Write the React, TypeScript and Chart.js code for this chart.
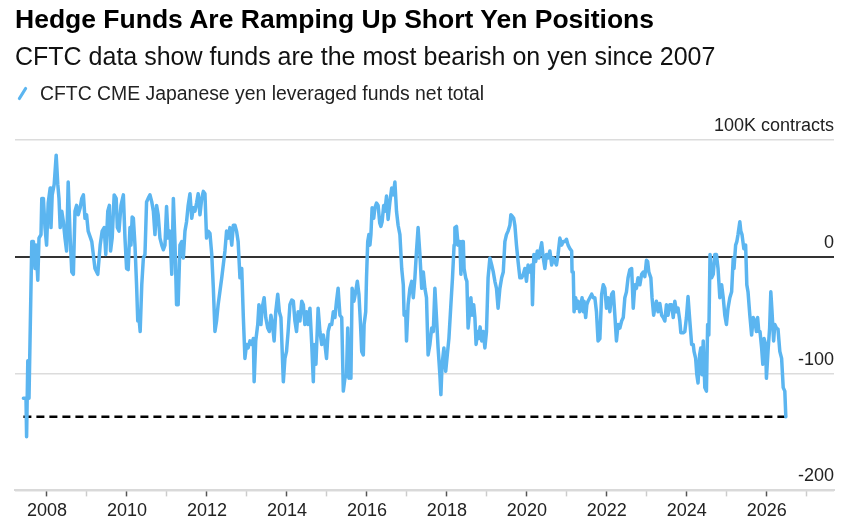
import React, { useEffect, useRef } from "react";
import { Chart, registerables } from "chart.js";

Chart.register(...registerables);

const TITLE = "Hedge Funds Are Ramping Up Short Yen Positions";
const SUBTITLE = "CFTC data show funds are the most bearish on yen since 2007";
const SERIES_LABEL = "CFTC CME Japanese yen leveraged funds net total";
const UNIT_LABEL = "100K contracts";

const BLUE = "#5bb5f0";
const FONT = "'Liberation Sans', Arial, Helvetica, sans-serif";

// Decimal-year dates of the observations
const dates = [
  2007.41, 2007.475, 2007.49, 2007.52, 2007.55, 2007.62, 2007.66, 2007.7, 2007.725, 2007.77,
  2007.8, 2007.85, 2007.87, 2007.91, 2007.95, 2007.99, 2008.03, 2008.08, 2008.1, 2008.13,
  2008.18, 2008.23, 2008.27, 2008.3, 2008.33, 2008.37, 2008.41, 2008.45, 2008.49, 2008.53,
  2008.58, 2008.62, 2008.66, 2008.7, 2008.74, 2008.78, 2008.83, 2008.87, 2008.91, 2008.95,
  2008.99, 2009.03, 2009.12, 2009.2, 2009.27, 2009.33, 2009.38, 2009.43, 2009.47, 2009.52,
  2009.56, 2009.59, 2009.63, 2009.68, 2009.73, 2009.76, 2009.8, 2009.85, 2009.91, 2009.95,
  2009.99, 2010.03, 2010.075, 2010.1, 2010.13, 2010.16, 2010.2, 2010.24, 2010.27, 2010.3,
  2010.33, 2010.37, 2010.41, 2010.45, 2010.49, 2010.53, 2010.575, 2010.62, 2010.66, 2010.7,
  2010.74, 2010.78, 2010.825, 2010.87, 2010.91, 2010.95, 2010.99, 2011.03, 2011.075, 2011.12,
  2011.16, 2011.2, 2011.24, 2011.28, 2011.325, 2011.37, 2011.41, 2011.45, 2011.49, 2011.53,
  2011.575, 2011.62, 2011.66, 2011.7, 2011.74, 2011.78, 2011.825, 2011.87, 2011.91, 2011.95,
  2011.99, 2012.03, 2012.075, 2012.12, 2012.16, 2012.2, 2012.24, 2012.28, 2012.37, 2012.45,
  2012.49, 2012.53, 2012.575, 2012.62, 2012.66, 2012.7, 2012.74, 2012.78, 2012.825, 2012.87,
  2012.91, 2012.95, 2012.99, 2013.03, 2013.075, 2013.12, 2013.16, 2013.18, 2013.22, 2013.27,
  2013.3, 2013.35, 2013.38, 2013.43, 2013.47, 2013.52, 2013.56, 2013.6, 2013.64, 2013.68,
  2013.72, 2013.77, 2013.81, 2013.85, 2013.91, 2013.95, 2013.99, 2014.03, 2014.075, 2014.12,
  2014.16, 2014.2, 2014.24, 2014.28, 2014.325, 2014.37, 2014.41, 2014.45, 2014.49, 2014.53,
  2014.575, 2014.62, 2014.66, 2014.68, 2014.725, 2014.78, 2014.825, 2014.87, 2014.91, 2014.95,
  2014.99, 2015.03, 2015.075, 2015.12, 2015.16, 2015.2, 2015.24, 2015.28, 2015.325, 2015.37,
  2015.41, 2015.45, 2015.49, 2015.52, 2015.55, 2015.575, 2015.6, 2015.63, 2015.675, 2015.72,
  2015.76, 2015.8, 2015.84, 2015.87, 2015.91, 2015.93, 2015.97, 2015.99, 2016.02, 2016.05,
  2016.075, 2016.1, 2016.13, 2016.17, 2016.2, 2016.24, 2016.28, 2016.32, 2016.35, 2016.38,
  2016.42, 2016.45, 2016.49, 2016.53, 2016.575, 2016.62, 2016.66, 2016.7, 2016.74, 2016.78,
  2016.825, 2016.87, 2016.91, 2016.93, 2016.97, 2016.99, 2017.03, 2017.075, 2017.12, 2017.16,
  2017.2, 2017.24, 2017.28, 2017.325, 2017.37, 2017.41, 2017.45, 2017.49, 2017.53, 2017.575,
  2017.62, 2017.66, 2017.7, 2017.74, 2017.78, 2017.825, 2017.85, 2017.88, 2017.925, 2017.97,
  2018.01, 2018.05, 2018.1, 2018.14, 2018.18, 2018.2, 2018.24, 2018.28, 2018.325, 2018.35,
  2018.38, 2018.41, 2018.43, 2018.47, 2018.5, 2018.53, 2018.57, 2018.6, 2018.63, 2018.67,
  2018.7, 2018.73, 2018.77, 2018.8, 2018.83, 2018.87, 2018.91, 2018.95, 2018.99, 2019.03,
  2019.075, 2019.12, 2019.16, 2019.2, 2019.24, 2019.28, 2019.325, 2019.37, 2019.41, 2019.45,
  2019.49, 2019.53, 2019.575, 2019.6, 2019.63, 2019.67, 2019.7, 2019.74, 2019.78, 2019.825,
  2019.87, 2019.91, 2019.95, 2019.99, 2020.03, 2020.075, 2020.12, 2020.14, 2020.175, 2020.22,
  2020.26, 2020.3, 2020.33, 2020.37, 2020.41, 2020.45, 2020.49, 2020.53, 2020.575, 2020.62,
  2020.66, 2020.7, 2020.74, 2020.78, 2020.825, 2020.87, 2020.91, 2020.95, 2020.99, 2021.03,
  2021.075, 2021.12, 2021.13, 2021.16, 2021.18, 2021.22, 2021.25, 2021.28, 2021.32, 2021.35,
  2021.38, 2021.41, 2021.43, 2021.47, 2021.5, 2021.53, 2021.575, 2021.62, 2021.66, 2021.7,
  2021.74, 2021.78, 2021.825, 2021.87, 2021.91, 2021.95, 2021.99, 2022.03, 2022.075, 2022.12,
  2022.16, 2022.2, 2022.24, 2022.28, 2022.325, 2022.37, 2022.41, 2022.45, 2022.49, 2022.53,
  2022.575, 2022.62, 2022.66, 2022.7, 2022.74, 2022.78, 2022.825, 2022.87, 2022.91, 2022.95,
  2022.99, 2023.02, 2023.05, 2023.1, 2023.13, 2023.17, 2023.2, 2023.24, 2023.28, 2023.325,
  2023.37, 2023.41, 2023.45, 2023.49, 2023.53, 2023.575, 2023.62, 2023.66, 2023.7, 2023.74,
  2023.78, 2023.825, 2023.85, 2023.91, 2023.95, 2023.99, 2024.03, 2024.075, 2024.12, 2024.16,
  2024.18, 2024.22, 2024.25, 2024.28, 2024.32, 2024.35, 2024.38, 2024.41, 2024.45, 2024.49,
  2024.52, 2024.55, 2024.58, 2024.62, 2024.66, 2024.7, 2024.74, 2024.78, 2024.825, 2024.87,
  2024.91, 2024.95, 2024.99, 2025.03, 2025.075, 2025.12, 2025.16, 2025.18, 2025.22, 2025.25,
  2025.28, 2025.325, 2025.35, 2025.38, 2025.425, 2025.47, 2025.5, 2025.53, 2025.575, 2025.62,
  2025.66, 2025.7, 2025.74, 2025.77, 2025.8, 2025.83, 2025.87, 2025.9, 2025.93, 2025.97,
  2025.99, 2026.03, 2026.07, 2026.1, 2026.13, 2026.17, 2026.2, 2026.24, 2026.28, 2026.325,
  2026.37, 2026.41, 2026.45, 2026.475,
];

// Net leveraged-fund position, thousands of contracts
const netTotal = [
  -121, -121, -154, -89, -121, 13, 13, -10, 10, -20,
  16, 19, 50, 50, 25, 10, 46, 59, 25, 53,
  62, 87, 62, 50, 25, 39, 30, 16, 5, 64,
  16, -13, -15, 39, 44, 36, 42, 50, 53, 33,
  36, 22, 13, -10, -15, 10, 22, 25, 2, 39,
  44, 5, 16, 53, 50, 25, 22, 44, 53, 16,
  -10, -11, 25, 10, 34, 33, 10, -24, -55, -52,
  -64, -24, -1, 2, 47, 50, 53, 47, 39, 19,
  44, 36, 16, 10, 6, 10, 43, 16, 22, -15,
  50, 13, -41, -41, 10, 13, -1, 22, 30, 44,
  54, 33, 42, 39, 46, 54, 36, 50, 56, 54,
  16, 22, 20, 2, -27, -64, -55, -41, -18, 5,
  22, 16, 25, 10, 27, 27, 22, 13, -18, -10,
  -52, -87, -75, -78, -72, -75, -70, -107, -72, -58,
  -41, -58, -44, -35, -52, -61, -64, -50, -58, -72,
  -47, -32, -47, -52, -107, -87, -81, -64, -41, -37,
  -38, -55, -64, -47, -55, -38, -41, -58, -47, -58,
  -44, -75, -107, -75, -92, -44, -64, -75, -67, -75,
  -87, -64, -58, -58, -47, -52, -38, -27, -50, -52,
  -115, -104, -101, -61, -104, -81, -104, -27, -38, -30,
  -21, -32, -58, -81, -84, -58, -47, -18, 13, 19,
  10, 19, 42, 33, 42, 46, 44, 29, 26, 30,
  44, 39, 52, 32, 47, 59, 53, 64, 39, 27,
  19, -10, -24, -50, -47, -72, -41, -27, -21, -35,
  -18, 5, 25, 2, -27, -13, -27, -35, -84, -75,
  -61, -64, -27, -52, -78, -101, -118, -92, -78, -98,
  -84, -70, -41, -18, 10, 25, 26, 10, 13, -15,
  13, 13, -10, -18, -21, -61, -47, -35, -50, -41,
  -52, -75, -64, -70, -60, -72, -64, -78, -64, -18,
  -1, -7, -13, -21, -27, -44, -27, -18, -13, 13,
  19, 22, 27, 36, 35, 33, 27, 10, -4, -18,
  -18, -15, -10, -21, -7, -13, -7, -41, 2, -4,
  5, -1, 5, 12, -1, -10, 2, -1, 5, -7,
  -1, -4, -7, 2, 16, 10, 13, 13, 15, 10,
  7, 5, -13, -13, -47, -35, -44, -38, -47, -41,
  -35, -47, -38, -52, -41, -38, -35, -32, -35, -35,
  -47, -72, -70, -32, -24, -27, -44, -35, -47, -32,
  -30, -50, -72, -58, -61, -55, -52, -35, -30, -18,
  -11, -10, -44, -24, -27, -18, -24, -15, -13, -17,
  -3, -4, -13, -18, -35, -50, -44, -38, -47, -40,
  -50, -52, -55, -41, -50, -41, -41, -52, -38, -47,
  -44, -55, -65, -65, -64, -52, -34, -55, -75, -75,
  -81, -87, -101, -108, -84, -78, -101, -72, -112, -115,
  -58, -67, 2, -18, -15, 2, 2, -10, -35, -24,
  -35, -50, -58, -44, -35, -30, -1, -10, 10, 13,
  19, 30, 22, 19, 7, 10, -24, -30, -50, -67,
  -52, -55, -64, -52, -64, -64, -78, -92, -70, -75,
  -104, -81, -61, -30, -47, -72, -58, -61, -62, -81,
  -87, -112, -115, -137,
];

// Reference level: the 2007 low matched by the latest reading
const lowLevel = -137;
const lowLineSpan = [2007.41, 2026.49];

const yTickValues = [100, 0, -100, -200];
const yearTickValues = [
  2008, 2009, 2010, 2011, 2012, 2013, 2014, 2015, 2016, 2017,
  2018, 2019, 2020, 2021, 2022, 2023, 2024, 2025, 2026, 2027,
];

export default function App() {
  const canvasRef = useRef<HTMLCanvasElement | null>(null);

  useEffect(() => {
    document.body.style.margin = "0";
    const canvas = canvasRef.current;
    if (!canvas) return;
    const chart = new Chart(canvas, {
      type: "line",
      data: {
        datasets: [
          {
            label: SERIES_LABEL,
            data: dates.map((d, i) => ({ x: d, y: netTotal[i] })),
            borderColor: BLUE,
            borderWidth: 3.5,
            pointRadius: 0,
            tension: 0,
            borderJoinStyle: "round",
            borderCapStyle: "round",
          },
          {
            label: "2007 low",
            data: lowLineSpan.map((x) => ({ x, y: lowLevel })),
            borderColor: "#000",
            borderWidth: 2.5,
            borderDash: [8, 5],
            pointRadius: 0,
          },
        ],
      },
      options: {
        responsive: false,
        animation: false,
        devicePixelRatio: 1,
        layout: { padding: { left: 15, right: 19, top: 140, bottom: 3 } },
        plugins: { legend: { display: false }, tooltip: { enabled: false } },
        scales: {
          x: {
            type: "linear",
            min: 2007.2,
            max: 2027.68,
            afterBuildTicks: (scale: any) => {
              scale.ticks = yearTickValues.map((v) => ({ value: v }));
            },
            afterFit: (scale: any) => {
              scale.paddingLeft = 0;
              scale.paddingRight = 0;
            },
            ticks: {
              autoSkip: false,
              maxRotation: 0,
              padding: 4,
              color: "#222",
              font: { family: FONT, size: 18 },
              callback: (v: any) => (Number(v) % 2 === 0 ? String(v) : ""),
            },
            grid: {
              drawOnChartArea: false,
              drawTicks: true,
              tickLength: 6,
              tickWidth: 1.5,
              tickColor: (ctx: any) =>
                ctx.tick && ctx.tick.value % 2 === 0 ? "#555" : "#ccc",
            },
            border: { display: true, color: "#d9d9d9", width: 2 },
          },
          y: {
            position: "right",
            min: -200,
            max: 100,
            afterBuildTicks: (scale: any) => {
              scale.ticks = yTickValues.map((v) => ({ value: v }));
            },
            afterFit: (scale: any) => {
              scale.paddingTop = 0;
              scale.paddingBottom = 0;
            },
            ticks: {
              mirror: true,
              padding: 0,
              labelOffset: -14,
              color: "#222",
              font: { family: FONT, size: 18 },
              callback: (v: any) => (Number(v) === 100 ? UNIT_LABEL : String(v)),
            },
            grid: {
              drawTicks: false,
              color: (ctx: any) =>
                ctx.tick && ctx.tick.value === 0 ? "#333" : "#dcdcdc",
              lineWidth: (ctx: any) => (ctx.tick && ctx.tick.value === 0 ? 2 : 1.5),
            },
            border: { display: false },
          },
        },
      },
    });
    return () => chart.destroy();
  }, []);

  return (
    <div
      style={{
        position: "fixed",
        left: 0,
        top: 0,
        width: 853,
        height: 529,
        background: "#fff",
        fontFamily: FONT,
        overflow: "hidden",
      }}
    >
      <canvas
        ref={canvasRef}
        width={853}
        height={529}
        style={{ position: "absolute", left: 0, top: 0, width: 853, height: 529 }}
      />
      <div
        style={{
          position: "absolute",
          left: 15,
          top: 6,
          fontSize: 26.5,
          lineHeight: "26.5px",
          fontWeight: 700,
          color: "#000",
          whiteSpace: "nowrap",
        }}
      >
        {TITLE}
      </div>
      <div
        style={{
          position: "absolute",
          left: 15,
          top: 44,
          fontSize: 25,
          lineHeight: "25px",
          color: "#111",
          whiteSpace: "nowrap",
        }}
      >
        {SUBTITLE}
      </div>
      <div
        style={{
          position: "absolute",
          left: 17,
          top: 84,
          height: 19,
          display: "flex",
          alignItems: "center",
          whiteSpace: "nowrap",
        }}
      >
        <span
          style={{
            display: "inline-block",
            width: 3,
            height: 15,
            background: BLUE,
            borderRadius: 1.5,
            transform: "rotate(32deg)",
            marginLeft: 4,
            marginRight: 16,
          }}
        />
        <span style={{ fontSize: 19.4, lineHeight: "19px", color: "#222" }}>
          {SERIES_LABEL}
        </span>
      </div>
    </div>
  );
}
